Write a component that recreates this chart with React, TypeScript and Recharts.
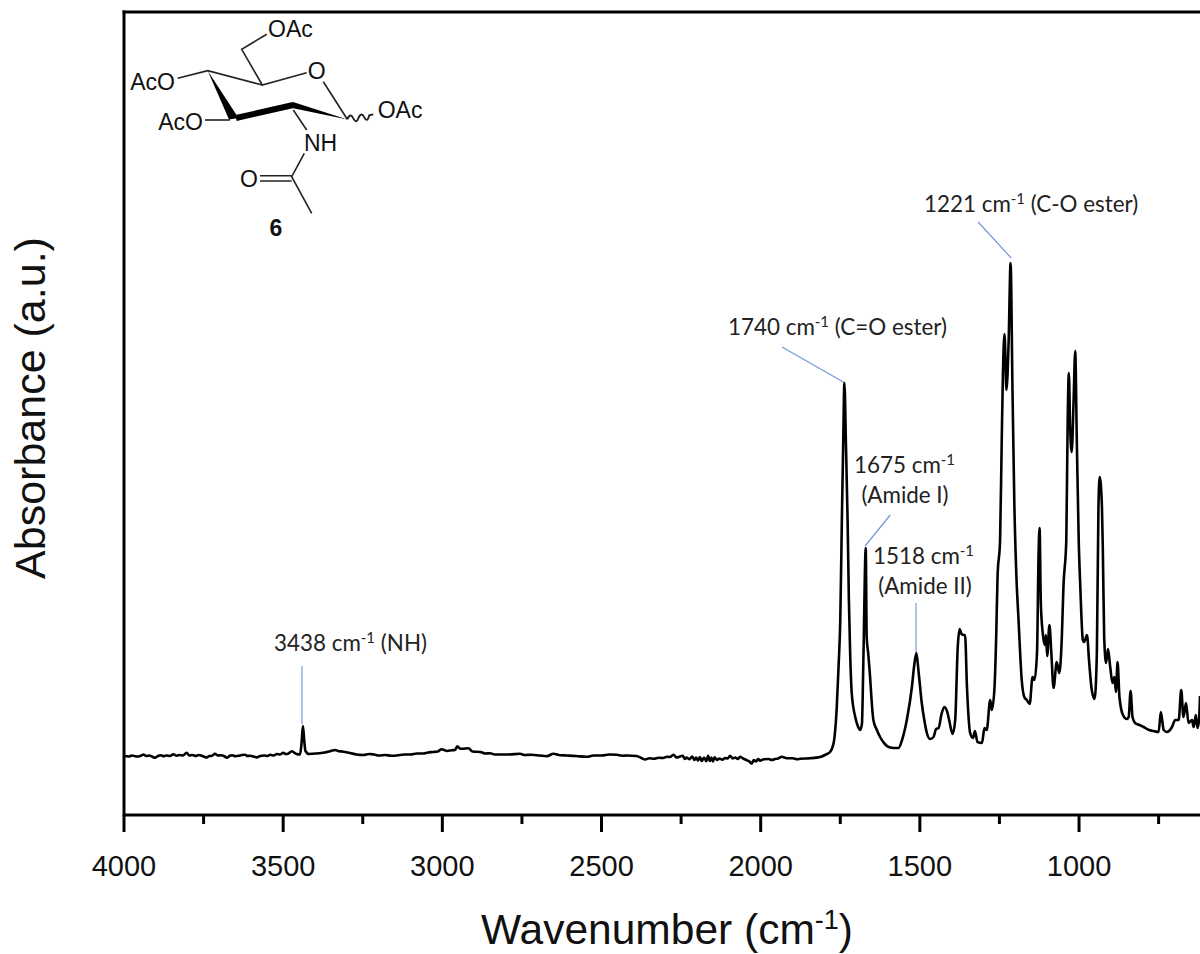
import { LineChart, Line, XAxis, YAxis, ReferenceLine } from 'recharts'

// [wavenumber, absorbance], y scale is arbitrary (a.u.)
const highBaseline = [
  [4000, 58], [3985, 57.5], [3975, 58.5], [3965, 57.8], [3955, 57.5], [3945, 58.5], [3939, 59.5], [3930, 58], [3920, 58.5],
  [3912, 57.5], [3903, 56.3], [3893, 58], [3885, 58.8], [3875, 57.8], [3865, 58.5], [3855, 58], [3845, 59.8], [3835, 58.3],
  [3825, 59], [3815, 58.5], [3803, 61.2], [3795, 58.5], [3785, 59], [3775, 58], [3765, 59], [3752, 57.8], [3740, 56.5],
  [3732, 58], [3725, 58], [3714, 60.2], [3705, 58.5], [3695, 58.8], [3685, 57.8], [3677, 56.3], [3668, 58.2], [3660, 58.8],
  [3650, 57.8], [3640, 58.2], [3630, 59], [3620, 59.2], [3612, 58], [3604, 58.2], [3593, 57.5], [3583, 56.6], [3572, 58],
  [3560, 58.5], [3550, 58], [3540, 59.2], [3530, 58.5], [3520, 60], [3510, 59.5], [3500, 61.2], [3492, 60], [3485, 60.3],
  [3473, 62.8], [3458, 60], [3447, 59.5], [3442, 72], [3438, 88], [3434, 74], [3430, 63], [3419, 60],
  [3395, 60.5], [3370, 61.5], [3350, 63], [3337, 64], [3325, 62.8], [3315, 62.5], [3290, 61], [3270, 59.5], [3248, 59], [3230, 60],
  [3215, 59.5], [3198, 58.5], [3180, 59], [3160, 58.2], [3143, 58.5], [3120, 59.5], [3100, 59.5], [3080, 60.5], [3060, 60.5], [3045, 61.5],
  [3030, 62], [3015, 62.5], [3002, 64.8], [2985, 63], [2970, 63.8], [2960, 64], [2953, 67.8],
  [2945, 65.5], [2938, 65.2], [2918, 65.8], [2905, 62.5], [2880, 62], [2865, 60.5], [2850, 60.8], [2835, 59.5], [2819, 59.5],
]

const midBaseline = [
  [2790, 59.5], [2756, 60.2], [2740, 59], [2720, 59.2], [2695, 58.5], [2672, 57.8], [2651, 60.2], [2630, 58.8], [2610, 58.5],
  [2580, 58], [2547, 57.2], [2525, 58.5], [2500, 58.5], [2475, 59.5], [2452, 59.2], [2435, 58.3],
  [2420, 58.5], [2390, 58], [2375, 56], [2363, 54.5], [2350, 55.8], [2335, 55.3], [2320, 56.2], [2306, 56], [2295, 57.2], [2285, 57], [2274, 59.3],
  [2264, 56.5], [2255, 57.3], [2245, 58.2], [2238, 55], [2233, 56.5], [2224, 54.8], [2215, 57.5], [2208, 54], [2203, 56.5],
  [2197, 53.5], [2191, 57], [2185, 53], [2178, 56.5], [2171, 52.8], [2165, 58.3], [2160, 53], [2155, 56.5], [2150, 52.5], [2145, 56.8],
  [2137, 54], [2130, 55.5], [2120, 54.3], [2112, 56], [2104, 55.5], [2096, 58.2], [2088, 55.5], [2080, 56.5], [2072, 55], [2065, 57.2],
  [2055, 55.5], [2045, 54], [2037, 52.8], [2028, 50.5], [2022, 54], [2015, 52.5], [2008, 55], [2002, 53.3],
  [1990, 54.8], [1975, 55], [1965, 54], [1955, 55], [1945, 55.5], [1934, 57.2], [1918, 55.8], [1900, 55.8], [1885, 54.8], [1876, 55.2],
]

const carbonylRegion = [
  [1845, 55.7], [1813, 57], [1795, 59.5], [1782, 62], [1771, 70.7], [1761, 107], [1755, 150], [1750, 194], [1745, 294], [1741, 367], [1737, 431],
  [1732, 367], [1727, 294], [1723, 215], [1719, 161], [1714, 121], [1703, 97], [1695, 88], [1688, 84], [1682, 90], [1677, 161], [1670, 266],
  [1667, 177], [1662, 160], [1658, 144], [1646, 94], [1635, 84], [1625, 77], [1610, 70], [1598, 67], [1582, 66], [1567, 66], [1555, 75], [1541, 94], [1525, 127], [1518, 148], [1511, 161], [1504, 142],
  [1494, 111], [1485, 92], [1478, 81], [1468, 75], [1457, 77], [1449, 85], [1441, 86], [1432, 100], [1423, 107], [1413, 101], [1408, 94],
  [1397, 80], [1389, 94], [1381, 167], [1375, 185], [1369, 180], [1363, 179], [1358, 179], [1352, 127], [1342, 81], [1333, 76],
  [1327, 83], [1319, 72], [1305, 71], [1297, 86], [1290, 84], [1279, 114], [1274, 104], [1266, 124], [1260, 180], [1256, 237],
]

const esterRegion = [
  [1248, 274], [1243, 370], [1239, 441], [1234, 480], [1228, 424], [1221, 474], [1215, 551], [1209, 424], [1203, 307], [1197, 240],
  [1190, 194], [1180, 134], [1172, 117], [1164, 114], [1155, 110], [1146, 137], [1140, 134], [1132, 161], [1127, 261],
  [1124, 286], [1120, 211], [1114, 181], [1108, 169], [1104, 179], [1100, 158], [1093, 189], [1087, 161], [1080, 126],
  [1070, 152], [1062, 141], [1054, 177], [1049, 227], [1040, 274], [1036, 384], [1032, 441], [1028, 387], [1023, 362],
  [1017, 414], [1012, 463], [1007, 374], [1001, 274], [996, 227], [988, 174], [984, 172], [975, 179], [968, 151],
  [960, 124], [951, 115], [944, 161], [939, 307], [935, 337], [928, 307], [925, 260],
]

const fingerprintRegion = [
  [921, 177], [915, 151], [909, 165], [902, 147], [895, 131], [889, 137], [884, 122], [879, 152], [873, 117], [862, 99],
  [850, 95], [844, 97], [838, 123], [832, 97], [824, 91], [810, 89], [797, 87], [780, 84], [766, 83], [750, 82],
  [743, 102], [734, 84], [724, 82], [708, 87], [698, 94], [687, 94], [679, 124], [672, 97], [664, 111], [656, 91],
  [645, 94], [640, 87], [633, 99], [628, 86], [623, 94], [620, 118],
]

const spectrum = [...highBaseline, ...midBaseline, ...carbonylRegion, ...esterRegion, ...fingerprintRegion]
  .map(([wavenumber, absorbance]) => ({ wavenumber, absorbance }))

const xTicks = [4000, 3750, 3500, 3250, 3000, 2750, 2500, 2250, 2000, 1750, 1500, 1250, 1000, 750]

// leader lines from labels to peaks
const leaders = [
  [3441, 148, 3441, 90],
  [1933, 467, 1735, 431],
  [1593, 299, 1672, 268],
  [1512, 211, 1512, 162],
  [1317, 592, 1213, 556],
]

const LEADER_COLOR = '#7398d8'
const LABEL_FONT = 'Lato, "Open Sans", sans-serif'
const ARIAL = '"Liberation Sans", Arial, sans-serif'

function WaveTick({ x, y, payload }: any) {
  const major = payload.value % 500 === 0
  return (
    <g>
      <line x1={x} x2={x} y1={y} y2={y + (major ? 17 : 9)} stroke="#000" strokeWidth={3} />
      {major && (
        <text x={x} y={876} textAnchor="middle" fontFamily={ARIAL} fontSize={29} fill="#111">
          {payload.value}
        </text>
      )}
    </g>
  )
}

function PeakLabel({ x, y, value, rest }: { x: number; y: number; value: string; rest?: string }) {
  return (
    <text x={x} y={y} fontFamily={LABEL_FONT} fontSize={22.4} fill="#222">
      {value} cm<tspan dy={-8} fontSize={15}>-1</tspan>
      <tspan dy={8}>{rest || ''}</tspan>
    </text>
  )
}

function Molecule() {
  const bond = { stroke: '#222', strokeWidth: 1.6, fill: 'none' }
  const atom = { fontFamily: ARIAL, fontSize: 23, fill: '#111' }
  return (
    <g>
      <path d="M266.7 34.3 L241.7 49.3 L262.3 85 L306.7 72.7" {...bond} />
      <path d="M177.7 78.3 L207.7 70.7 L262.3 85" {...bond} />
      <path d="M323.3 81.7 L347.3 119.3" {...bond} />
      <path d="M205 120 L230 120" {...bond} />
      <path d="M293.3 110 L306.7 130" {...bond} />
      <path d="M304.3 153.3 L291.7 176.7 L311.7 213.3" {...bond} />
      <path d="M260 175.7 L291.7 175.7 M260 181 L291.7 181" {...bond} />
      <path d="M347.3 119.3 q3 -7 6 -1 q3 6 5 0 q3 -7 6 -1 q3 6 5 -2 l4 -1" stroke="#222" strokeWidth={1.9} fill="none" />
      <polygon points="207.7,70.7 229,119.5 238.5,118" fill="#000" />
      <line x1={236} y1={118} x2={293.3} y2={105} stroke="#000" strokeWidth={6} />
      <polygon points="293,102 347.5,119.5 292,108" fill="#000" />
      <text x={268} y={37} {...atom}>OAc</text>
      <text x={316.7} y={79} textAnchor="middle" {...atom}>O</text>
      <text x={175} y={90} textAnchor="end" {...atom}>AcO</text>
      <text x={203} y={129.5} textAnchor="end" {...atom}>AcO</text>
      <text x={377.7} y={118} {...atom}>OAc</text>
      <text x={304} y={151} {...atom}>NH</text>
      <text x={249} y={187} textAnchor="middle" {...atom}>O</text>
      <text x={276} y={236} textAnchor="middle" fontWeight="bold" {...atom}>6</text>
    </g>
  )
}

export default function App() {
  return (
    <div style={{ position: 'absolute', left: 0, top: 0, width: 1200, height: 954, background: '#fff', overflow: 'hidden' }}>
      <LineChart width={1200} height={954} data={spectrum} margin={{ top: 12, right: 0, bottom: 0, left: 124 }}>
        <XAxis
          dataKey="wavenumber"
          type="number"
          domain={[620, 4000]}
          reversed
          allowDataOverflow
          ticks={xTicks}
          interval={0}
          height={139}
          tickSize={0}
          tickMargin={0}
          tick={WaveTick}
          axisLine={{ stroke: '#000', strokeWidth: 3 }}
        />
        <YAxis type="number" domain={[-1, 802]} width={0} tick={false} tickLine={false} axisLine={false} />
        <ReferenceLine y={802} stroke="#000" strokeWidth={3} strokeLinecap="square" ifOverflow="visible" />
        <ReferenceLine x={4000} stroke="#000" strokeWidth={3} strokeLinecap="square" ifOverflow="visible" />
        {leaders.map(([x1, y1, x2, y2], i) => (
          <ReferenceLine
            key={i}
            segment={[{ x: x1, y: y1 }, { x: x2, y: y2 }]}
            stroke={LEADER_COLOR}
            strokeWidth={1.2}
          />
        ))}
        <Line
          type="monotone"
          dataKey="absorbance"
          stroke="#000"
          strokeWidth={2.6}
          dot={false}
          isAnimationActive={false}
        />
      </LineChart>
      <svg width={1200} height={954} style={{ position: 'absolute', left: 0, top: 0, pointerEvents: 'none' }}>
        <text
          transform="translate(45 408) rotate(-90)"
          textAnchor="middle"
          fontFamily={ARIAL}
          fontSize={43}
          fill="#111"
        >
          Absorbance (a.u.)
        </text>
        <text x={667} y={944} textAnchor="middle" fontFamily={ARIAL} fontSize={42.5} fill="#111">
          Wavenumber (cm<tspan dy={-15} fontSize={27}>-1</tspan><tspan dy={15}>)</tspan>
        </text>
        <PeakLabel x={274} y={651} value="3438" rest=" (NH)" />
        <PeakLabel x={728} y={335} value="1740" rest=" (C=O ester)" />
        <PeakLabel x={924} y={212} value="1221" rest=" (C-O ester)" />
        <PeakLabel x={854} y={473} value="1675" />
        <text x={905} y={503} textAnchor="middle" fontFamily={LABEL_FONT} fontSize={22.4} fill="#222">(Amide I)</text>
        <PeakLabel x={873} y={564} value="1518" />
        <text x={925} y={594} textAnchor="middle" fontFamily={LABEL_FONT} fontSize={22.4} fill="#222">(Amide II)</text>
        <Molecule />
      </svg>
    </div>
  )
}
